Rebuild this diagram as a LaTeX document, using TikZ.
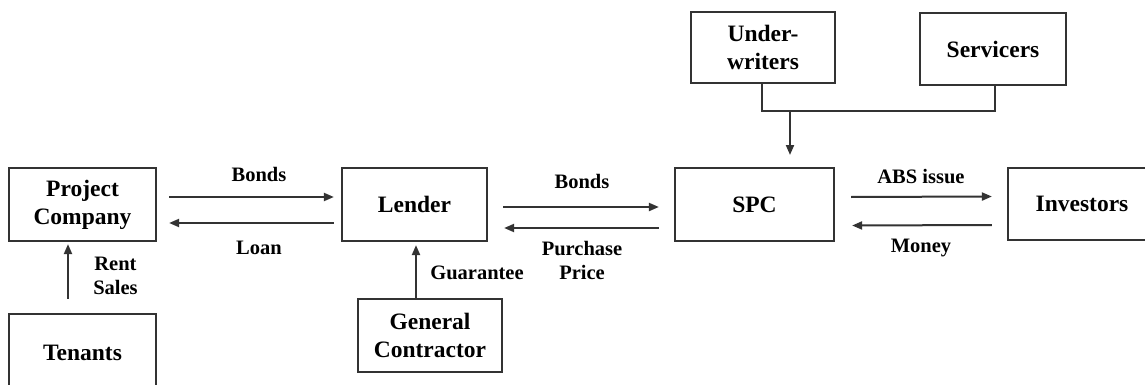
\documentclass[tikz,border=0pt]{standalone}
\usepackage{fontspec}
\setmainfont{Liberation Serif}
\usetikzlibrary{arrows.meta,calc}
\begin{document}
\begin{tikzpicture}[x=1pt,y=-1pt,
  box/.style={draw=black!80,line width=2.2pt,rectangle,inner sep=0pt,align=center,
    font=\fontsize{23.5}{28}\selectfont\bfseries},
  lbl/.style={inner sep=0pt,align=center,font=\fontsize{20.5}{24.5}\selectfont\bfseries},
  arr/.style={draw=black!80,line width=2pt,-{Triangle[length=10pt,width=8pt]}},
  ln/.style={draw=black!80,line width=2pt}]
\useasboundingbox (0,0) rectangle (1145,385);
\clip (0,0) rectangle (1145,385);
\fill[white] (0,0) rectangle (1145,385);
% boxes
\node[box,minimum width=147pt,minimum height=73pt] (pc) at (82.5,204.5) {Project\\Company};
\node[box,minimum width=147pt,minimum height=78pt] (ten) at (82.5,353) {Tenants};
\node[box,minimum width=145pt,minimum height=73pt] (lender) at (414.5,204.5) {Lender};
\node[box,minimum width=144pt,minimum height=73pt] (gc) at (430,335.5) {General\\Contractor};
\node[box,minimum width=159pt,minimum height=73pt] (spc) at (754.5,204.5) {SPC};
\node[box,minimum width=148pt,minimum height=72pt] (inv) at (1082,204) {Investors};
\node[box,minimum width=144pt,minimum height=71pt] (uw) at (763,47.5) {Under-\\writers};
\node[box,minimum width=146pt,minimum height=72pt] (serv) at (993,49) {Servicers};
% project company <-> lender
\draw[arr] ([xshift=12pt,yshift=7.5pt]pc.east) -- ([xshift=-7pt,yshift=7.5pt]lender.west);
\draw[arr] ([xshift=-7pt,yshift=-18.5pt]lender.west) -- ([xshift=12pt,yshift=-18.5pt]pc.east);
\node[lbl] (lb1) at (259,174) {Bonds};
\node[lbl] (lb2) at (259,248) {Loan};
% tenants -> project company
\draw[arr] ([xshift=-14.5pt,yshift=14pt]ten.north) -- ([xshift=-14.5pt,yshift=-2pt]pc.south);
\node[lbl] (lb3) at (115.5,276) {Rent\\Sales};
% lender <-> spc
\draw[arr] ([xshift=15pt,yshift=-2.5pt]lender.east) -- ([xshift=-15pt,yshift=-2.5pt]spc.west);
\draw[arr] ([xshift=-15pt,yshift=-23.5pt]spc.west) -- ([xshift=16pt,yshift=-23.5pt]lender.east);
\node[lbl] (lb4) at (582,181) {Bonds};
\node[lbl] (lb5) at (582,260.5) {Purchase\\Price};
% general contractor -> lender
\draw[arr] ([xshift=-14pt]gc.north) -- ([xshift=1.5pt,yshift=-3pt]lender.south);
\node[lbl] (lb6) at (477,273) {Guarantee};
% spc <-> investors
\draw[arr] ([xshift=16pt,yshift=7.5pt]spc.east) -- ([xshift=-15pt,yshift=7.5pt]inv.west);
\draw[arr] ([xshift=-15pt,yshift=-21pt]inv.west) -- ([xshift=17pt,yshift=-21pt]spc.east);
\node[lbl] (lb7) at (921,177) {ABS issue};
\node[lbl] (lb8) at (921,248) {Money};
% underwriters / servicers -> spc
\coordinate (j2) at (995,111);
\coordinate (j3) at (790,111);
\coordinate (j4) at (790,155);
\draw[ln] ([xshift=-1pt]uw.south) |- (j2) -- (j2 |- serv.south);
\draw[arr] (j3) -- (j4);
\end{tikzpicture}
\end{document}
